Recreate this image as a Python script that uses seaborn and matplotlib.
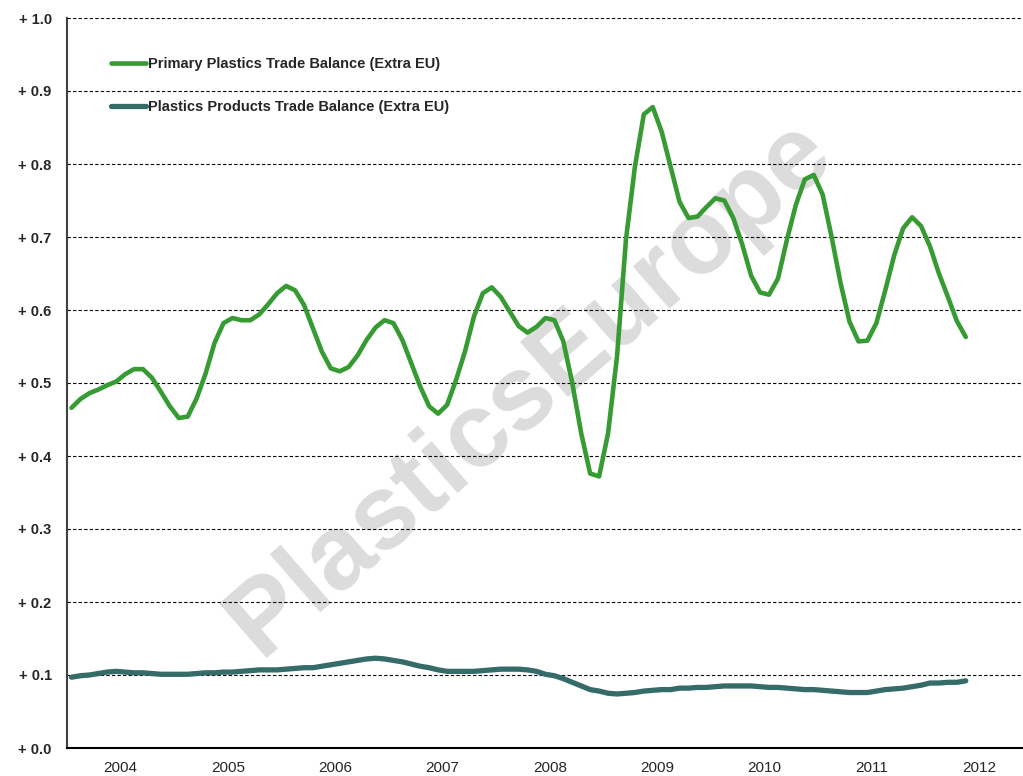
import numpy as np
import pandas as pd
import matplotlib
matplotlib.use("Agg")
import matplotlib.pyplot as plt
import seaborn as sns

# monthly trade balance, Jan 2004 .. May 2012
primary = [
    0.466, 0.478, 0.486, 0.491, 0.497, 0.502, 0.512, 0.519, 0.519, 0.507,
    0.488, 0.468, 0.452, 0.454, 0.479, 0.513, 0.555, 0.582, 0.589, 0.586,
    0.586, 0.594, 0.608, 0.623, 0.633, 0.627, 0.607, 0.575, 0.543, 0.520,
    0.516, 0.522, 0.538, 0.559, 0.576, 0.586, 0.582, 0.559, 0.527, 0.495,
    0.468, 0.458, 0.470, 0.504, 0.543, 0.591, 0.623, 0.631, 0.618, 0.598,
    0.578, 0.569, 0.577, 0.589, 0.586, 0.557, 0.500, 0.431, 0.376, 0.372,
    0.431, 0.536, 0.696, 0.796, 0.868, 0.878, 0.844, 0.796, 0.748, 0.726,
    0.728, 0.741, 0.753, 0.750, 0.726, 0.690, 0.647, 0.624, 0.621, 0.643,
    0.696, 0.744, 0.779, 0.785, 0.758, 0.700, 0.637, 0.584, 0.557, 0.558,
    0.582, 0.627, 0.675, 0.712, 0.727, 0.715, 0.687, 0.650, 0.618, 0.585,
    0.563,
]
products = [
    0.097, 0.099, 0.100, 0.102, 0.104, 0.105, 0.104, 0.103, 0.103, 0.102,
    0.101, 0.101, 0.101, 0.101, 0.102, 0.103, 0.103, 0.104, 0.104, 0.105,
    0.106, 0.107, 0.107, 0.107, 0.108, 0.109, 0.110, 0.110, 0.112, 0.114,
    0.116, 0.118, 0.120, 0.122, 0.123, 0.122, 0.120, 0.118, 0.115, 0.112,
    0.110, 0.107, 0.105, 0.105, 0.105, 0.105, 0.106, 0.107, 0.108, 0.108,
    0.108, 0.107, 0.105, 0.101, 0.099, 0.095, 0.090, 0.085, 0.080, 0.078,
    0.075, 0.074, 0.075, 0.076, 0.078, 0.079, 0.080, 0.080, 0.082, 0.082,
    0.083, 0.083, 0.084, 0.085, 0.085, 0.085, 0.085, 0.084, 0.083, 0.083,
    0.082, 0.081, 0.080, 0.080, 0.079, 0.078, 0.077, 0.076, 0.076, 0.076,
    0.078, 0.080, 0.081, 0.082, 0.084, 0.086, 0.089, 0.089, 0.090, 0.090,
    0.092,
]
years = ["2004", "2005", "2006", "2007", "2008", "2009", "2010", "2011", "2012"]
series_names = ["Primary Plastics Trade Balance (Extra EU)",
                "Plastics Products Trade Balance (Extra EU)"]
y_ticks = [0.0, 0.1, 0.2, 0.3, 0.4, 0.5, 0.6, 0.7, 0.8, 0.9, 1.0]

sns.set_style("white")
plt.rcParams["font.family"] = ["Liberation Sans", "DejaVu Sans"]

# long table for seaborn
month = np.arange(len(primary))
df = pd.concat([
    pd.DataFrame({"month": month, "value": primary, "series": series_names[0]}),
    pd.DataFrame({"month": month, "value": products, "series": series_names[1]}),
])

fig = plt.figure(figsize=(10.23, 7.76), dpi=100)
ax = fig.add_axes([67 / 1023, 28 / 776, (1023 - 67) / 1023, (748 - 18) / 776])
ax.set_axisbelow("line")  # grid above the watermark, below the data lines

# watermark: under grid and lines
ax.text(530 / 1023, 1 - 388 / 776, "PlasticsEurope", transform=fig.transFigure,
        fontsize=76, fontweight="bold", color="#dcdcdc", rotation=41,
        ha="center", va="center", rotation_mode="anchor", zorder=0.2, clip_on=False)

sns.lineplot(data=df, x="month", y="value", hue="series",
             palette={series_names[0]: "#379b33", series_names[1]: "#356b69"},
             linewidth=3.3, ax=ax, zorder=3)
ax.get_lines()[1].set_linewidth(3.8)

ax.set_xlim(-0.5, 106.4)
ax.set_ylim(0, 1.0)
ax.set_xlabel("")
ax.set_ylabel("")

# year boundaries as tick marks, labels centred between them
ax.set_xticks(np.arange(-0.5, 100, 12))
ax.set_xticklabels([])
ax.set_xticks(np.arange(5.5, 5.5 + 12 * len(years), 12), minor=True)
ax.set_xticklabels(years, minor=True, fontsize=11)
ax.tick_params(axis="x", which="major", direction="out", length=5, width=1.2, color="black")
ax.tick_params(axis="x", which="minor", length=0, pad=9)

ax.set_yticks(y_ticks)
ax.set_yticklabels([f"+ {v:.1f}" for v in y_ticks], fontsize=10.5, fontweight="bold")
ax.tick_params(axis="y", direction="out", length=5, width=1.2, color="#404040", pad=6)

ax.yaxis.grid(True, linestyle=(0, (3, 2)), color="black", linewidth=0.8)
ax.xaxis.grid(False)

for side in ["top", "right"]:
    ax.spines[side].set_visible(False)
ax.spines["left"].set_color("#404040")
ax.spines["left"].set_linewidth(1.5)
ax.spines["bottom"].set_color("black")
ax.spines["bottom"].set_linewidth(1.5)

handles, labels = ax.get_legend_handles_labels()
leg = ax.legend(handles, labels, loc="upper left",
                bbox_to_anchor=(104 / 1023, 1 - 50 / 776), bbox_transform=fig.transFigure,
                frameon=False, borderpad=0, handlelength=2.35, handletextpad=0.15,
                labelspacing=1.97, prop={"weight": "bold", "size": 10.5})
leg.get_lines()[0].set_linewidth(3.3)
leg.get_lines()[1].set_linewidth(3.8)

fig.savefig("out.png", dpi=100)
